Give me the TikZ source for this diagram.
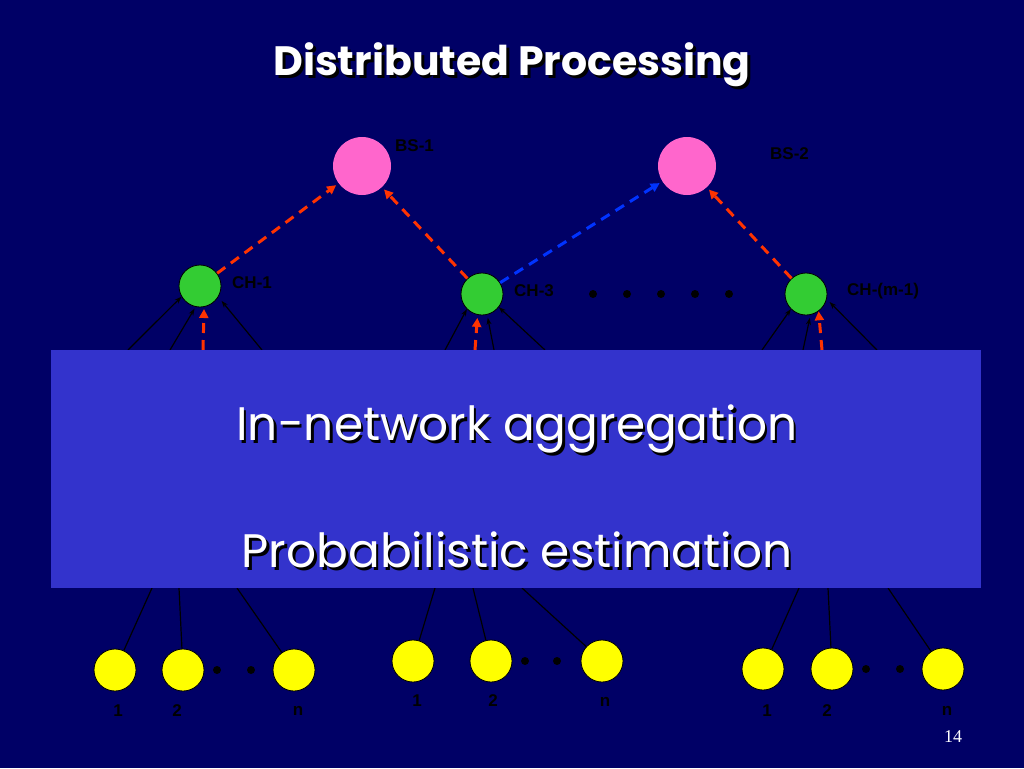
\documentclass[tikz,border=0pt]{standalone}
\usepackage{fontspec}
\setmainfont{Liberation Serif}
\newfontfamily\comicfont{Poppins}
\newfontfamily\labfont{Liberation Sans}
\usetikzlibrary{arrows.meta}
\definecolor{bgnavy}{HTML}{000066}
\definecolor{boxblue}{HTML}{3333CC}
\definecolor{bspink}{HTML}{FF66CC}
\definecolor{chgreen}{HTML}{33CC33}
\definecolor{snyellow}{HTML}{FFFF00}
\definecolor{linkred}{HTML}{FF3300}
\definecolor{linkblue}{HTML}{0033FF}
\begin{document}
\begin{tikzpicture}[x=1pt,y=-1pt,
  bs/.style={circle,fill=bspink,minimum size=58pt,inner sep=0pt},
  ch/.style={circle,fill=chgreen,draw=black,line width=0.8pt,minimum size=42pt,inner sep=0pt},
  sn/.style={circle,fill=snyellow,draw=black,line width=0.8pt,minimum size=42pt,inner sep=0pt},
  blackdot/.style={circle,fill=black,minimum size=8pt,inner sep=0pt},
  lab/.style={font=\labfont\bfseries\fontsize{17}{17}\selectfont,text=black,inner sep=0pt},
  uplink/.style={line width=3pt,dash pattern=on 10pt off 7pt,-{Triangle[length=9pt,width=9pt]},shorten >=3pt},
  feed/.style={line width=1.2pt,black,-{Stealth[length=7pt,width=5pt]}},
  leg/.style={line width=1.2pt,black},
  reddash/.style={line width=3pt,linkred,dash pattern=on 10pt off 7pt,-{Triangle[length=9pt,width=9pt]}},
  bigtext/.style={font=\comicfont\fontsize{47}{47}\selectfont,inner sep=0pt},
  titletext/.style={font=\comicfont\bfseries\fontsize{41}{41}\selectfont,inner sep=0pt}
]
\useasboundingbox (0,0) rectangle (1024,768);
\fill[bgnavy] (0,0) rectangle (1024,768);

% title
\node[titletext,text=black] (titleshadow) at (515,68) {Distributed Processing};
\node[titletext,text=white] (title) at (512,65) {Distributed Processing};

% base stations
\node[bs] (bs1) at (362,166) {};
\node[bs] (bs2) at (687,166) {};
\node[lab,anchor=west] (bs1lab) at (395,146) {BS-1};
\node[lab,anchor=west] (bs2lab) at (770,154) {BS-2};

% cluster heads
\node[ch] (ch1) at (200,286) {};
\node[ch] (ch3) at (482,294) {};
\node[ch] (chm) at (806,294) {};
\node[lab,anchor=west] (ch1lab) at (232,283) {CH-1};
\node[lab,anchor=west] (ch3lab) at (514,291) {CH-3};
\node[lab,anchor=west] (chmlab) at (847,291) {CH-(m-1)};
\foreach \i/\x in {1/593,2/627,3/661,4/695,5/729}
  \node[blackdot] (chdot\i) at (\x,294) {};

% uplinks
\draw[uplink,linkred] (ch1) -- (bs1);
\draw[uplink,linkred] (ch3) -- (bs1);
\draw[uplink,linkblue] (ch3) -- (bs2);
\draw[uplink,linkred] (chm) -- (bs2);

% sensor nodes
\node[sn] (a1) at (115,670) {};
\node[sn] (a2) at (183,670) {};
\node[sn] (an) at (294,670) {};
\node[blackdot] (adot1) at (217,670) {};
\node[blackdot] (adot2) at (251,670) {};
\node[sn] (b1) at (413,661) {};
\node[sn] (b2) at (491,661) {};
\node[sn] (bn) at (602,661) {};
\node[blackdot] (bdot1) at (525,661) {};
\node[blackdot] (bdot2) at (557,661) {};
\node[sn] (c1) at (763,669) {};
\node[sn] (c2) at (832,669) {};
\node[sn] (cn) at (943,669) {};
\node[blackdot] (cdot1) at (866,669) {};
\node[blackdot] (cdot2) at (900,669) {};

\node[lab] (a1lab) at (118,711) {1};
\node[lab] (a2lab) at (177,711) {2};
\node[lab] (anlab) at (298,711) {n};
\node[lab] (b1lab) at (417,701) {1};
\node[lab] (b2lab) at (493,701) {2};
\node[lab] (bnlab) at (605,702) {n};
\node[lab] (c1lab) at (767,711) {1};
\node[lab] (c2lab) at (827,711) {2};
\node[lab] (cnlab) at (947,711) {n};

% free ends at the box edges
\coordinate (t11) at (128,350); \coordinate (t12) at (170,350);
\coordinate (t13) at (203,350); \coordinate (t14) at (262,350);
\coordinate (t31) at (445,350); \coordinate (t32) at (475,350);
\coordinate (t33) at (494,350); \coordinate (t34) at (545,350);
\coordinate (tm1) at (762,350); \coordinate (tm2) at (803,350);
\coordinate (tm3) at (822,350); \coordinate (tm4) at (877,350);

\coordinate (u11) at (152,588); \coordinate (u12) at (179,588); \coordinate (u13) at (237,588);
\coordinate (u21) at (435,588); \coordinate (u22) at (473,588); \coordinate (u23) at (522,588);
\coordinate (u31) at (799,588); \coordinate (u32) at (828,588); \coordinate (u33) at (888,588);

% feeds into cluster heads
\draw[feed] (t11) -- (ch1.210);
\draw[feed,shorten >=2pt] (t12) -- (ch1.258);
\draw[reddash,shorten >=2pt] (t13) -- (ch1.281);
\draw[feed,shorten >=5pt] (t14) -- (ch1.329);

\draw[feed] (t31) -- (ch3.225);
\draw[reddash,shorten >=3pt] (t32) -- (ch3.258);
\draw[feed,shorten >=3pt] (t33) -- (ch3.284);
\draw[feed] (t34) -- (ch3.322);

\draw[feed] (tm1) -- (chm.225);
\draw[feed,shorten >=3pt] (tm2) -- (chm.282);
\draw[reddash] (tm3) -- (chm.306);
\draw[feed,shorten >=4pt] (tm4) -- (chm.346);

% legs from sensors
\draw[leg] (a1) -- (u11);
\draw[leg] (a2) -- (u12);
\draw[leg] (an) -- (u13);
\draw[leg] (b1) -- (u21);
\draw[leg] (b2) -- (u22);
\draw[leg] (bn) -- (u23);
\draw[leg] (c1) -- (u31);
\draw[leg] (c2) -- (u32);
\draw[leg] (cn) -- (u33);

% overlay box
\node[fill=boxblue,draw=none,minimum width=930pt,minimum height=238pt,inner sep=0pt,anchor=north west] (overlay) at (51,350) {};
\node[bigtext,text=black] (line1shadow) at (519.5,431.5) {In-network aggregation};
\node[bigtext,text=white] (line1) at (517,429) {In-network aggregation};
\node[bigtext,text=black] (line2shadow) at (519.5,552.5) {Probabilistic estimation};
\node[bigtext,text=white] (line2) at (517,550) {Probabilistic estimation};

% page number
\node[font=\fontsize{18}{18}\selectfont,text=white,inner sep=0pt] (pagenum) at (953,737) {14};
\end{tikzpicture}
\end{document}
